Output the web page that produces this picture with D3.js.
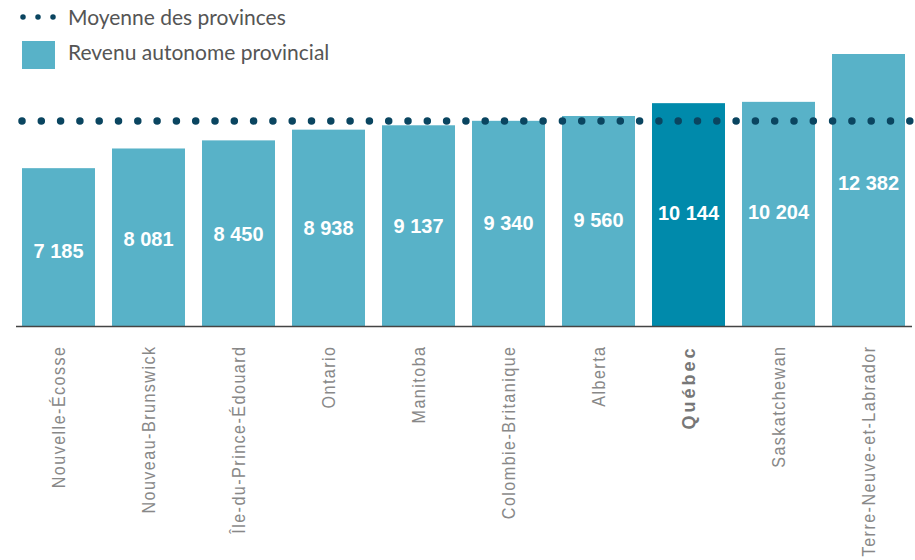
<!DOCTYPE html>
<html>
<head>
<meta charset="utf-8">
<script src="https://cdn.jsdelivr.net/npm/d3@7"></script>
<style>
    body { margin: 0; background: #fff; }
</style>
</head>
<body>
<div id="chart"></div>
<script>
    // Data
    const provinces = ["Nouvelle-Écosse", "Nouveau-Brunswick", "Île-du-Prince-Édouard", "Ontario", "Manitoba",
        "Colombie-Britanique", "Alberta", "Québec", "Saskatchewan", "Terre-Neuve-et-Labrador"];
    const revenus = [7185, 8081, 8450, 8938, 9137, 9340, 9560, 10144, 10204, 12382];
    const moyenne = 9335;
    const highlight = "Québec";

    const width = 915;
    const height = 560;
    const baseline = 326;

    const light = "#58b2c8";
    const dark = "#008aab";
    const navy = "#0a4560";

    const svg = d3.select("#chart")
        .append("svg")
        .attr("width", width)
        .attr("height", height);

    const x = d3.scaleBand()
        .domain(provinces)
        .range([13.5, 913.5])
        .paddingInner(0.189)
        .paddingOuter(0.0944);

    const y = d3.scaleLinear()
        .domain([0, d3.max(revenus)])
        .range([baseline, 54]);

    const data = provinces.map((p, i) => ({ province: p, value: revenus[i] }));

    // Bars
    svg.selectAll("rect.bar")
        .data(data)
        .enter()
        .append("rect")
        .attr("class", "bar")
        .attr("x", d => x(d.province))
        .attr("y", d => y(d.value))
        .attr("width", x.bandwidth())
        .attr("height", d => baseline - y(d.value))
        .attr("fill", d => d.province === highlight ? dark : light);

    // Value labels
    const fmt = v => d3.format(",")(v).replace(",", " ");
    svg.selectAll("text.val")
        .data(data)
        .enter()
        .append("text")
        .attr("class", "val")
        .attr("x", d => x(d.province) + x.bandwidth() / 2)
        .attr("y", d => baseline - (0.591 * (baseline - y(d.value)) - 18))
        .attr("dy", "0.36em")
        .attr("text-anchor", "middle")
        .attr("fill", "#fff")
        .style("font-family", "'Liberation Sans', Arial, sans-serif")
        .style("font-weight", "bold")
        .style("font-size", "20px")
        .text(d => fmt(d.value));

    // Axis
    const axis = svg.append("g")
        .attr("transform", `translate(0, ${baseline + 0.5})`)
        .call(d3.axisBottom(x).tickSize(0).tickPadding(0));

    axis.select(".domain")
        .attr("stroke", "#444")
        .attr("stroke-width", 1.5)
        .attr("d", "M16,0H912");

    // condensed look: squeeze the plain labels along the text direction
    axis.selectAll(".tick text")
        .attr("transform", d => d === highlight ? "rotate(-90)" : "rotate(-90) scale(0.85,1)")
        .attr("x", d => d === highlight ? -19 : -19 / 0.85)
        .attr("y", 0)
        .attr("dy", "0.36em")
        .attr("text-anchor", "end")
        .attr("fill", d => d === highlight ? "#777" : "#888")
        .style("font-family", "'Liberation Sans', Arial, sans-serif")
        .style("font-weight", d => d === highlight ? "bold" : "normal")
        .style("letter-spacing", d => d === highlight ? "3px" : "1.7px")
        .style("font-size", d => d === highlight ? "18px" : "19px");

    // Average line (dotted)
    svg.append("line")
        .attr("x1", 22)
        .attr("x2", 911)
        .attr("y1", y(moyenne))
        .attr("y2", y(moyenne))
        .attr("stroke", navy)
        .attr("stroke-width", 7.5)
        .attr("stroke-linecap", "round")
        .attr("stroke-dasharray", "0 19.3");

    // Legend
    const legend = svg.append("g");

    legend.append("line")
        .attr("x1", 23)
        .attr("x2", 54)
        .attr("y1", 17)
        .attr("y2", 17)
        .attr("stroke", navy)
        .attr("stroke-width", 5.5)
        .attr("stroke-linecap", "round")
        .attr("stroke-dasharray", "0 15");

    legend.append("text")
        .attr("x", 68)
        .attr("y", 25)
        .attr("fill", "#555")
        .style("font-family", "Lato, sans-serif")
        .style("font-size", "21px")
        .text("Moyenne des provinces");

    legend.append("rect")
        .attr("x", 22)
        .attr("y", 41)
        .attr("width", 33)
        .attr("height", 28)
        .attr("fill", light);

    legend.append("text")
        .attr("x", 68)
        .attr("y", 60)
        .attr("fill", "#555")
        .style("font-family", "Lato, sans-serif")
        .style("font-size", "21px")
        .text("Revenu autonome provincial");
</script>
</body>
</html>
